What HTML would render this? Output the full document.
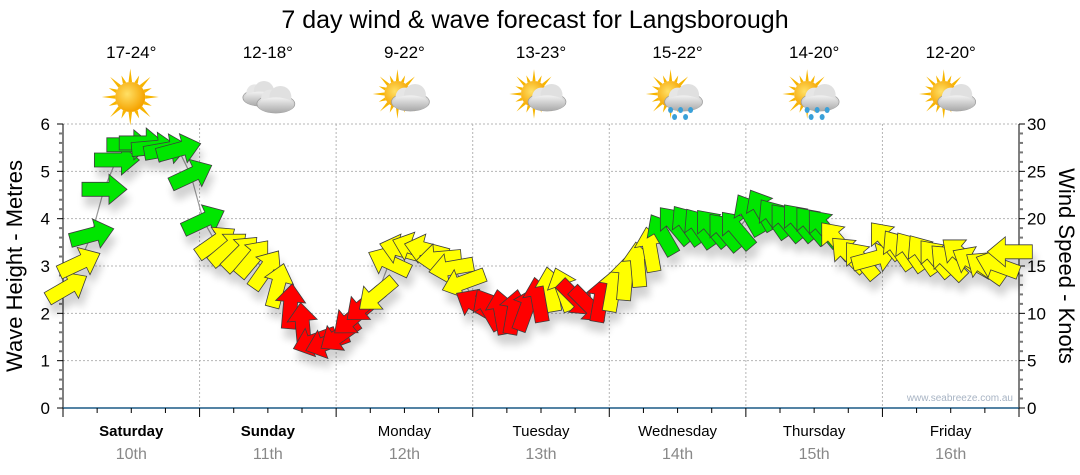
<!DOCTYPE html>
<html><head><meta charset="utf-8">
<style>
html,body{margin:0;padding:0;background:#fff;}
svg{display:block;font-family:"Liberation Sans",sans-serif;}
</style></head>
<body>
<svg id="chart" width="1080" height="475" viewBox="0 0 1080 475" xmlns="http://www.w3.org/2000/svg">
<defs>
<filter id="shadow" x="-50%" y="-50%" width="200%" height="200%">
<feGaussianBlur in="SourceAlpha" stdDeviation="4"/>
<feOffset dx="3" dy="10" result="b"/>
<feComponentTransfer><feFuncA type="linear" slope="0.18"/></feComponentTransfer>
<feMerge><feMergeNode/><feMergeNode in="SourceGraphic"/></feMerge>
</filter>
<radialGradient id="sunG" cx="0.4" cy="0.4" r="0.6"><stop offset="0" stop-color="#ffe066"/><stop offset="1" stop-color="#f5a300"/></radialGradient>
<linearGradient id="cloudG" x1="0" y1="0" x2="0" y2="1"><stop offset="0" stop-color="#f2f2f2"/><stop offset="1" stop-color="#a9a9a9"/></linearGradient>
</defs>
<text x="535" y="28" text-anchor="middle" font-size="25" fill="#000">7 day wind &amp; wave forecast for Langsborough</text>
<g id="grid"></g>
<g id="axes"></g>
<g id="icons"></g>
<g id="series"></g>
<text transform="translate(22,266) rotate(-90)" text-anchor="middle" font-size="22">Wave Height - Metres</text>
<text transform="translate(1059,266) rotate(90)" text-anchor="middle" font-size="22">Wind Speed - Knots</text>
<text x="1013" y="401" text-anchor="end" font-size="10" fill="#a8b4c4">www.seabreeze.com.au</text>
</svg>
<script>
const days = ["Saturday","Sunday","Monday","Tuesday","Wednesday","Thursday","Friday"];
const dates = ["10th","11th","12th","13th","14th","15th","16th"];
const boldDays = [true,true,false,false,false,false,false];
const temps = ["17-24°","12-18°","9-22°","13-23°","15-22°","14-20°","12-20°"];
const iconTypes = ["sun","cloud","suncloud","suncloud","rain","rain","suncloud"];
const waveTicks = [0,1,2,3,4,5,6];
const windTicks = [0,5,10,15,20,25,30];
// wind speed (knots), 11 readings per day
const windSpeed = [
 12.7,15.3,18.3,23.1,26.2,27.8,28.0,27.5,27.3,27.3,24.6,
 19.8,17.5,16.8,16.3,15.8,14.6,12.9,10.7,8.7,7.1,6.9,
 7.7,9.5,10.9,12.0,15.4,16.7,16.9,16.7,15.8,14.8,13.3,
 10.9,10.4,10.1,10.1,10.4,11.4,12.5,12.5,11.6,10.9,11.4,
 12.5,13.7,15.1,16.7,18.3,19.3,19.3,19.0,19.0,18.6,18.8,
 20.4,20.9,20.0,19.6,19.6,19.3,19.0,17.7,16.2,15.6,15.8,
 17.7,16.7,16.5,16.2,15.8,15.4,16.2,15.4,14.8,15.1,16.5
];
// arrow heading in screen degrees (0 = pointing right, -90 = pointing up)
const windDir = [
 -30,-25,-15,0,0,0,0,-5,-10,-15,-25,
 -25,-35,-40,-45,-50,-55,-75,-85,-95,160,160,
 145,140,140,140,-155,-165,-160,-165,175,170,160,
 -150,-120,-100,-80,-70,-100,-100,-110,45,45,-80,
 -80,-85,-95,-100,-120,-130,-125,-125,-130,-130,-130,
 -120,-120,-125,-130,-130,-130,-130,-130,-135,-130,-15,
 -130,-125,-125,-125,-130,-135,-140,-150,-145,-160,180
];

const NS="http://www.w3.org/2000/svg";
const X0=63,X1=1019,Y0=408,Y1=124;
const dayW=(X1-X0)/7, perDay=11;
const xAt=i=>X0+((i+0.3)/perDay)*dayW;
const yWind=k=>Y0-(k/30)*(Y0-Y1);
const yWave=m=>Y0-(m/6)*(Y0-Y1);
function mk(tag,attrs,parent){const e=document.createElementNS(NS,tag);for(const k in attrs)e.setAttribute(k,attrs[k]);parent.appendChild(e);return e;}

const grid=document.getElementById('grid');
waveTicks.forEach(m=>{ if(m===0)return;
 const l=mk('line',{x1:X0,x2:X1,y1:yWave(m),y2:yWave(m),stroke:'#b5b5b5','stroke-dasharray':'2,2'},grid);
 
 
});
for(let d=1;d<7;d++){
 const x=X0+d*dayW;
 const l=mk('line',{x1:x,x2:x,y1:Y1,y2:Y0,stroke:'#b5b5b5','stroke-dasharray':'2,2'},grid);
 
 
}

const axes=document.getElementById('axes');
mk('line',{x1:X0,x2:X0,y1:Y1,y2:Y0+8,stroke:'#000'},axes);
mk('line',{x1:X1,x2:X1,y1:Y1,y2:Y0+8,stroke:'#000'},axes);
mk('line',{x1:X0,x2:X1,y1:Y0,y2:Y0,stroke:'#1c5a86','stroke-width':1.5},axes);
for(let m=0;m<=30;m++){
 const y=Y0-m/30*(Y0-Y1);
 const major=m%5===0;
 mk('line',{x1:X0-(major?6:4),x2:X0,y1:y,y2:y,stroke:major?'#000':'#777','stroke-width':major?1:2},axes);
 mk('line',{x1:X1,x2:X1+(major?6:4),y1:y,y2:y,stroke:major?'#000':'#777','stroke-width':major?1:2},axes);
}
waveTicks.forEach(m=>{
 const t=mk('text',{x:X0-13,y:yWave(m)+6,'text-anchor':'end','font-size':17},axes);
 t.textContent=m;
 
 
});
windTicks.forEach(k=>{
 const t=mk('text',{x:X1+8,y:yWind(k)+6,'text-anchor':'start','font-size':17},axes);
 t.textContent=k;
 
 
});
for(let q=0;q<=28;q++){
 const x=X0+q*dayW/4;
 mk('line',{x1:x,x2:x,y1:Y0,y2:Y0+(q%4===0?9:5),stroke:'#000'},axes);
}
days.forEach((d,i)=>{
 const cx=X0+(i+0.5)*dayW;
 const t=mk('text',{x:cx,y:436,'text-anchor':'middle','font-size':15,'font-weight':boldDays[i]?'bold':'normal'},axes);
 t.textContent=d;
 
 
 const t2=mk('text',{x:cx,y:459,'text-anchor':'middle','font-size':16,fill:'#888'},axes);
 t2.textContent=dates[i];
 
 
 const t3=mk('text',{x:cx,y:58,'text-anchor':'middle','font-size':17},axes);
 t3.textContent=temps[i];
 
 
});

// icons
const icons=document.getElementById('icons');
function sun(g,cx,cy,r){
 for(let a=0;a<16;a++){
  const ang=a*Math.PI/8, L=a%2?r*1.55:r*1.9;
  const p1=[cx+Math.cos(ang-0.12)*r,cy+Math.sin(ang-0.12)*r],p2=[cx+Math.cos(ang+0.12)*r,cy+Math.sin(ang+0.12)*r],p3=[cx+Math.cos(ang)*L,cy+Math.sin(ang)*L];
  mk('polygon',{points:[p1,p2,p3].map(p=>p.join(',')).join(' '),fill:'#f7b500'},g);
 }
 mk('circle',{cx,cy,r,fill:'url(#sunG)'},g);
}
function cloudShape(g,cx,cy,w,h){
 const e=mk('g',{},g);
 mk('ellipse',{cx:cx,cy:cy+h*0.15,rx:w/2,ry:h*0.35,fill:'url(#cloudG)',stroke:'#999','stroke-width':0.7},e);
 mk('circle',{cx:cx-w*0.15,cy:cy-h*0.05,r:h*0.35,fill:'#e6e6e6'},e);
 mk('circle',{cx:cx+w*0.12,cy:cy-h*0.12,r:h*0.42,fill:'#e0e0e0'},e);
 mk('ellipse',{cx:cx,cy:cy+h*0.2,rx:w/2-1,ry:h*0.3,fill:'url(#cloudG)'},e);
}
iconTypes.forEach((t,i)=>{
 const cx=X0+(i+0.5)*dayW, cy=97;
 const g=mk('g',{},icons);
 
 
 if(t==='sun'){sun(g,cx-1,cy,15);}
 else if(t==='cloud'){cloudShape(g,cx-8,cy-3,34,24);cloudShape(g,cx+8,cy+3,38,26);}
 else {
  sun(g,cx-7,cy-3,13);
  cloudShape(g,cx+6,cy+1,38,26);
  if(t==='rain'){[[-7,13],[3,13],[13,13],[-3,20],[8,20]].forEach(p=>mk('ellipse',{cx:cx+p[0],cy:cy+p[1],rx:2.5,ry:3,fill:'#3aa0d8'},g));}
 }
});

// wind series
const series=document.getElementById('series');
const pts=windSpeed.map((k,i)=>[xAt(i),yWind(k)]);
const line=mk('polyline',{points:pts.map(p=>p.join(',')).join(' '),fill:'none',stroke:'#999','stroke-width':1.2},series);


const ag=mk('g',{filter:'url(#shadow)'},series);
function col(k){return k>=18?'#00e600':(k>=12?'#ffff00':'#ff0000');}
const arrowPath='M-22,-7 L5,-7 L5,-15 L23,0 L5,15 L5,7 L-22,7 Z';
windSpeed.forEach((k,i)=>{
 const p=mk('path',{d:arrowPath,transform:`translate(${xAt(i)},${yWind(k)}) rotate(${windDir[i]})`,fill:col(k),stroke:'#3c3c3c','stroke-width':0.8,'stroke-linejoin':'miter'},ag);
 
 
});
</script>
</body></html>
